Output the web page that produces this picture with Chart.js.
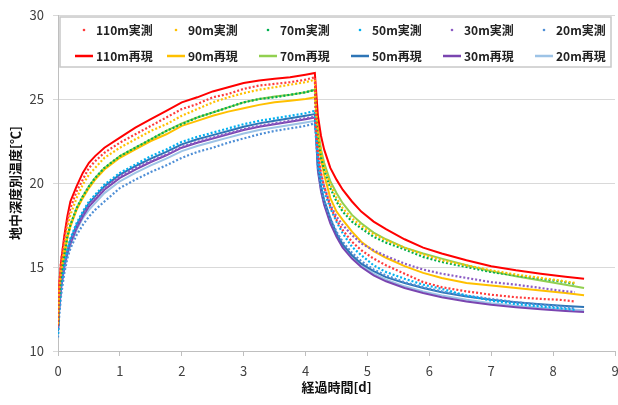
<!DOCTYPE html>
<html>
<head>
<meta charset="utf-8">
<script src="https://cdn.jsdelivr.net/npm/chart.js@4.4.1/dist/chart.umd.min.js"></script>
<style>
  body { margin: 0; background: #fff; }
  #wrap { width: 618px; height: 405px; }
</style>
</head>
<body>
<div id="wrap"><canvas id="tempChart" width="618" height="405"></canvas></div>
<script>
// elapsed time [d]
const timeSim = [0, 0.02, 0.05, 0.1, 0.15, 0.2, 0.3, 0.4, 0.5, 0.6, 0.75, 1.0, 1.25, 1.5, 1.75, 2.0, 2.25, 2.5, 2.75, 3.0, 3.25, 3.5, 3.75, 4.0, 4.15,
  4.17, 4.2, 4.25, 4.3, 4.4, 4.5, 4.6, 4.75, 4.9, 5.1, 5.3, 5.6, 5.9, 6.2, 6.6, 7.0, 7.4, 7.8, 8.2, 8.5];
const timeObs = [0, 0.02, 0.05, 0.1, 0.15, 0.2, 0.3, 0.4, 0.5, 0.6, 0.75, 1.0, 1.25, 1.5, 1.75, 2.0, 2.25, 2.5, 2.75, 3.0, 3.25, 3.5, 3.75, 4.0, 4.15,
  4.17, 4.2, 4.25, 4.3, 4.4, 4.5, 4.6, 4.75, 4.9, 5.1, 5.3, 5.6, 5.9, 6.2, 6.6, 7.0, 7.4, 7.8, 8.1, 8.35];

// measured (実測)
const obs110 = [11.5, 14.0, 15.4, 16.6, 17.7, 18.5, 19.5, 20.2, 20.9, 21.3, 21.8, 22.4, 22.9, 23.4, 23.9, 24.4, 24.7, 25.1, 25.3, 25.6, 25.8, 25.9, 26.0, 26.15, 26.3,
  23.3, 21.8, 20.6, 19.8, 18.6, 17.8, 17.2, 16.5, 16.0, 15.5, 15.1, 14.6, 14.1, 13.8, 13.55, 13.35, 13.2, 13.1, 13.05, 12.95];
const obs90 = [11.6, 13.6, 14.9, 16.2, 17.3, 18.1, 19.1, 19.9, 20.5, 20.9, 21.5, 22.1, 22.6, 23.1, 23.5, 24.0, 24.4, 24.8, 25.1, 25.35, 25.55, 25.7, 25.85, 26.0, 26.15,
  24.3, 22.9, 21.8, 21.0, 19.9, 19.1, 18.5, 17.9, 17.45, 16.95, 16.6, 16.15, 15.75, 15.4, 15.1, 14.8, 14.55, 14.35, 14.2, 14.05];
const obs70 = [11.5, 13.3, 14.5, 15.7, 16.8, 17.5, 18.5, 19.2, 19.8, 20.3, 20.9, 21.6, 22.1, 22.6, 23.1, 23.5, 23.9, 24.2, 24.5, 24.8, 25.0, 25.1, 25.25, 25.4, 25.55,
  24.0, 22.6, 21.5, 20.8, 19.7, 18.9, 18.3, 17.7, 17.3, 16.8, 16.45, 16.05, 15.6, 15.3, 15.0, 14.7, 14.5, 14.3, 14.15, 14.0];
const obs50 = [11.0, 12.6, 13.9, 15.2, 16.0, 16.7, 17.6, 18.3, 18.9, 19.3, 19.9, 20.6, 21.1, 21.6, 22.0, 22.45, 22.75, 23.0, 23.25, 23.5, 23.7, 23.85, 24.0, 24.15, 24.3,
  23.0, 21.4, 20.2, 19.5, 18.5, 17.7, 17.0, 16.2, 15.7, 15.1, 14.7, 14.3, 13.95, 13.7, 13.3, 13.0, 12.8, 12.65, 12.55, 12.45];
const obs30 = [11.4, 12.7, 13.9, 15.1, 15.9, 16.5, 17.4, 18.1, 18.7, 19.1, 19.7, 20.4, 20.9, 21.3, 21.7, 22.15, 22.45, 22.7, 22.95, 23.2, 23.4, 23.55, 23.7, 23.85, 23.95,
  23.0, 21.6, 20.5, 19.8, 18.7, 18.0, 17.5, 16.9, 16.4, 16.0, 15.65, 15.2, 14.85, 14.6, 14.35, 14.1, 13.95, 13.75, 13.6, 13.5];
const obs20 = [10.8, 12.1, 13.3, 14.6, 15.5, 16.1, 16.9, 17.5, 18.0, 18.4, 18.9, 19.7, 20.2, 20.65, 21.05, 21.5, 21.85, 22.1, 22.4, 22.65, 22.9, 23.1, 23.25, 23.4, 23.55,
  22.6, 20.9, 19.7, 18.9, 17.9, 17.1, 16.5, 15.85, 15.35, 14.85, 14.5, 14.1, 13.8, 13.55, 13.3, 13.1, 12.9, 12.75, 12.65, 12.55];

// reproduced (再現)
const sim110 = [11.4, 13.9, 15.3, 16.8, 18.0, 18.9, 19.8, 20.6, 21.2, 21.6, 22.1, 22.7, 23.3, 23.8, 24.3, 24.8, 25.1, 25.45, 25.7, 25.95, 26.1, 26.2, 26.3, 26.45, 26.55,
  25.5, 24.0, 22.8, 22.0, 20.9, 20.2, 19.6, 18.9, 18.3, 17.7, 17.25, 16.65, 16.15, 15.8, 15.4, 15.05, 14.8, 14.6, 14.42, 14.3];
const sim90 = [11.6, 13.3, 14.5, 15.6, 16.7, 17.4, 18.4, 19.1, 19.7, 20.2, 20.8, 21.5, 22.0, 22.5, 22.9, 23.4, 23.7, 24.0, 24.25, 24.45, 24.65, 24.8, 24.9, 25.0, 25.1,
  24.5, 22.8, 21.4, 20.5, 19.1, 18.3, 17.8, 17.1, 16.5, 15.95, 15.55, 15.05, 14.65, 14.35, 14.05, 13.9, 13.75, 13.6, 13.45, 13.32];
const sim70 = [11.5, 13.3, 14.5, 15.7, 16.8, 17.5, 18.5, 19.2, 19.8, 20.3, 20.9, 21.6, 22.1, 22.6, 23.1, 23.55, 23.9, 24.2, 24.5, 24.8, 25.0, 25.15, 25.25, 25.4, 25.55,
  25.0, 23.2, 22.0, 21.2, 20.1, 19.4, 18.8, 18.1, 17.6, 17.05, 16.65, 16.15, 15.8, 15.5, 15.1, 14.75, 14.45, 14.2, 13.95, 13.75];
const sim50 = [11.2, 12.7, 13.9, 15.1, 15.9, 16.6, 17.5, 18.2, 18.8, 19.2, 19.8, 20.5, 21.0, 21.45, 21.85, 22.3, 22.6, 22.85, 23.1, 23.35, 23.55, 23.7, 23.85, 24.0, 24.1,
  23.0, 21.0, 19.8, 19.0, 17.9, 17.0, 16.35, 15.7, 15.2, 14.75, 14.4, 14.05, 13.75, 13.5, 13.25, 13.05, 12.9, 12.78, 12.68, 12.62];
const sim30 = [11.3, 12.6, 13.8, 15.0, 15.8, 16.4, 17.3, 18.0, 18.6, 19.0, 19.6, 20.3, 20.8, 21.25, 21.65, 22.1, 22.4, 22.65, 22.9, 23.15, 23.35, 23.5, 23.65, 23.8, 23.9,
  22.8, 20.7, 19.5, 18.7, 17.6, 16.8, 16.15, 15.5, 15.0, 14.5, 14.15, 13.75, 13.45, 13.2, 12.95, 12.75, 12.6, 12.48, 12.38, 12.32];
const sim20 = [11.2, 12.5, 13.7, 14.9, 15.7, 16.3, 17.2, 17.9, 18.4, 18.8, 19.4, 20.1, 20.6, 21.05, 21.45, 21.9, 22.2, 22.45, 22.7, 22.95, 23.15, 23.3, 23.45, 23.6, 23.7,
  22.9, 20.8, 19.6, 18.8, 17.7, 16.9, 16.25, 15.6, 15.1, 14.6, 14.25, 13.85, 13.55, 13.3, 13.05, 12.85, 12.7, 12.58, 12.48, 12.42];

const depths = ['110m', '90m', '70m', '50m', '30m', '20m'];
const obsSeries = [obs110, obs90, obs70, obs50, obs30, obs20];
const simSeries = [sim110, sim90, sim70, sim50, sim30, sim20];
const obsColors = ['#ff3b3b', '#ffc000', '#00b050', '#00b0f0', '#8c5cc4', '#4f8fd6'];
const simColors = ['#ff0000', '#ffc000', '#92d050', '#2e75b6', '#7a45b0', '#9dc3e6'];

const toPoints = (xs, ys) => ys.map((y, i) => ({ x: xs[i], y: y }));

const datasets = [];
depths.forEach((d, i) => {
  datasets.push({
    label: d + '実測',
    data: toPoints(timeObs, obsSeries[i]),
    showLine: true,
    borderColor: obsColors[i],
    backgroundColor: obsColors[i],
    borderWidth: 2.2,
    borderDash: [2, 2],
    pointRadius: 0,
    kind: 'obs'
  });
});
depths.forEach((d, i) => {
  datasets.push({
    label: d + '再現',
    data: toPoints(timeSim, simSeries[i]),
    showLine: true,
    borderColor: simColors[i],
    backgroundColor: simColors[i],
    borderWidth: 2,
    pointRadius: 0,
    kind: 'sim'
  });
});

const FONT = "'Noto Sans CJK JP', 'Noto Sans', sans-serif";

// legend drawn inside the plot area, 2 rows x 6 columns
const insideLegend = {
  id: 'insideLegend',
  afterDraw(chart) {
    const c = chart.ctx;
    const a = chart.chartArea;
    const bx = a.left + 2, by = a.top + 2, bw = a.right - a.left - 6, bh = 50;
    c.save();
    c.fillStyle = '#fff';
    c.fillRect(bx, by, bw, bh);
    c.strokeStyle = '#c8c8c8';
    c.lineWidth = 1.5;
    c.strokeRect(bx, by, bw, bh);
    c.font = 'bold 12px ' + FONT;
    c.textBaseline = 'middle';
    const colW = 92;
    chart.data.datasets.forEach((ds, i) => {
      const row = ds.kind === 'obs' ? 0 : 1;
      const col = i % 6;
      const x0 = bx + 15 + col * colW;
      const y0 = by + 13 + row * 26;
      if (row === 0) {
        c.fillStyle = ds.borderColor;
        c.beginPath();
        c.arc(x0 + 9, y0, 1.3, 0, Math.PI * 2);
        c.fill();
      } else {
        c.strokeStyle = ds.borderColor;
        c.lineWidth = 2.5;
        c.beginPath();
        c.moveTo(x0, y0);
        c.lineTo(x0 + 18, y0);
        c.stroke();
      }
      c.fillStyle = '#222';
      c.fillText(ds.label, x0 + 21, y0);
    });
    c.restore();
  }
};

const ctx = document.getElementById('tempChart').getContext('2d');

const tempChart = new Chart(ctx, {
  type: 'scatter',
  data: { datasets: datasets },
  options: {
    responsive: false,
    animation: false,
    layout: { padding: { left: 0, right: 3, top: 15, bottom: 0 } },
    plugins: {
      legend: { display: false },
      tooltip: { enabled: false }
    },
    scales: {
      x: {
        type: 'linear',
        min: 0,
        max: 9,
        afterFit: (scale) => { scale.height = 54; scale.paddingLeft = 0; scale.paddingRight = 0; },
        ticks: { stepSize: 1, color: '#404040', font: { family: FONT, size: 13, lineHeight: 1 }, padding: 9 },
        grid: { drawOnChartArea: false, tickLength: 5, color: '#bfbfbf' },
        border: { color: '#bfbfbf' },
        title: { display: true, text: '経過時間[d]', color: '#111', font: { family: FONT, size: 13, weight: 'bold', lineHeight: 1 }, padding: { top: 0, bottom: 11.5 } }
      },
      y: {
        min: 10,
        max: 30,
        afterFit: (scale) => { scale.width = 58; scale.paddingTop = 0; scale.paddingBottom = 0; },
        ticks: { stepSize: 5, color: '#404040', font: { family: FONT, size: 13 }, padding: 9 },
        grid: { color: '#d9d9d9', tickLength: 5 },
        border: { color: '#bfbfbf' },
        title: { display: true, text: '地中深度別温度[℃]', color: '#111', font: { family: FONT, size: 13, weight: 'bold', lineHeight: 1 }, padding: { top: 8.5, bottom: 0 } }
      }
    }
  },
  plugins: [insideLegend]
});
</script>
</body>
</html>
